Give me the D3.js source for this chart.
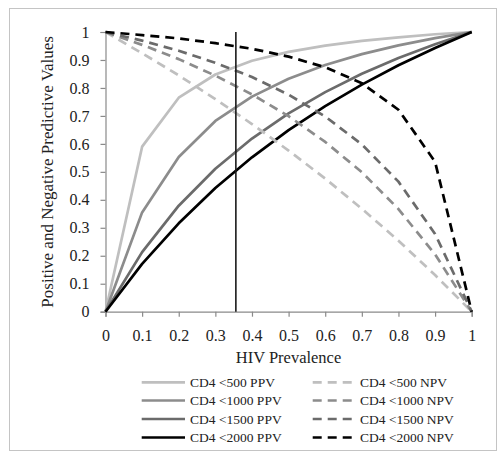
<!DOCTYPE html>
<html><head><meta charset="utf-8">
<script src="https://cdn.jsdelivr.net/npm/d3@7"></script>
<style>body{margin:0;background:#fff}svg{display:block}svg text{font-family:"Liberation Serif","Times New Roman",serif}</style>
</head><body>
<svg id="c" width="503" height="456"></svg>
<script>
const prevalence = [0,0.1,0.2,0.3,0.4,0.5,0.6,0.7,0.8,0.9,1];
const ppv500  = [0,0.59,0.765,0.848,0.897,0.929,0.951,0.968,0.981,0.992,1];
const ppv1000 = [0,0.355,0.553,0.682,0.769,0.833,0.882,0.921,0.952,0.978,1];
const ppv1500 = [0,0.213,0.379,0.511,0.619,0.709,0.785,0.851,0.907,0.956,1];
const ppv2000 = [0,0.171,0.316,0.442,0.552,0.649,0.735,0.812,0.881,0.943,1];
const npv500  = [1,0.924,0.845,0.760,0.671,0.576,0.476,0.368,0.254,0.131,0];
const npv1000 = [1,0.954,0.903,0.844,0.777,0.699,0.607,0.499,0.367,0.205,0];
const npv1500 = [1,0.969,0.933,0.890,0.839,0.776,0.698,0.598,0.465,0.278,0];
const npv2000 = [1,0.989,0.977,0.960,0.940,0.912,0.874,0.817,0.722,0.536,0];
const markerX = 0.356;
const xTicks = [0,0.1,0.2,0.3,0.4,0.5,0.6,0.7,0.8,0.9,1];
const yTicks = [0,0.1,0.2,0.3,0.4,0.5,0.6,0.7,0.8,0.9,1];

const series = [
  {name:"CD4 <500 PPV", v:ppv500, color:"#bfbfbf", dash:null},
  {name:"CD4 <1000 PPV", v:ppv1000, color:"#8c8c8c", dash:null},
  {name:"CD4 <1500 PPV", v:ppv1500, color:"#6b6b6b", dash:null},
  {name:"CD4 <2000 PPV", v:ppv2000, color:"#000000", dash:null},
  {name:"CD4 <500 NPV", v:npv500, color:"#bfbfbf", dash:"9,6"},
  {name:"CD4 <1000 NPV", v:npv1000, color:"#8c8c8c", dash:"9,6"},
  {name:"CD4 <1500 NPV", v:npv1500, color:"#6b6b6b", dash:"9,6"},
  {name:"CD4 <2000 NPV", v:npv2000, color:"#000000", dash:"9,6"}
];

const svg = d3.select("#c");
svg.append("rect").attr("x",9.5).attr("y",8.5).attr("width",487).attr("height",442)
  .attr("fill","#fff").attr("stroke","#c4c4c4").attr("stroke-width",1);

const x = d3.scaleLinear().domain([0,1]).range([105.5,471.7]);
const y = d3.scaleLinear().domain([0,1]).range([311.7,32]);

const xAxis = svg.append("g").attr("transform",`translate(0,${y(0)})`)
  .call(d3.axisBottom(x).tickValues(xTicks).tickSize(5).tickPadding(13).tickFormat(d3.format("")));
const yAxis = svg.append("g").attr("transform",`translate(${x(0)},0)`)
  .call(d3.axisLeft(y).tickValues(yTicks).tickSize(5).tickPadding(11).tickFormat(d3.format("")));
[xAxis,yAxis].forEach(g=>{
  g.select(".domain").attr("stroke","#8a8a8a").attr("stroke-width",1.2);
  g.selectAll(".tick line").attr("stroke","#8a8a8a").attr("stroke-width",1.2);
  g.selectAll("text").attr("font-family",null).attr("font-size",16).attr("fill","#222");
});

const line = d3.line().x((d,i)=>x(prevalence[i])).y(d=>y(d));
series.forEach(s=>{
  svg.append("path").attr("d",line(s.v)).attr("fill","none")
    .attr("stroke",s.color).attr("stroke-width",2.7)
    .attr("stroke-linejoin","round")
    .attr("stroke-dasharray",s.dash);
});

svg.append("line").attr("x1",x(markerX)).attr("x2",x(markerX))
  .attr("y1",y(1)).attr("y2",y(0)).attr("stroke","#1a1a1a").attr("stroke-width",1.6);

svg.append("text").attr("x",288.5).attr("y",363).attr("text-anchor","middle")
  .attr("font-size",16.5).attr("fill","#222").text("HIV Prevalence");
svg.append("text").attr("transform",`translate(53,${(y(0)+y(1))/2}) rotate(-90)`)
  .attr("text-anchor","middle").attr("font-size",17).attr("fill","#222")
  .text("Positive and Negative Predictive Values");

const rows = [382.3,400.5,419,437.5];
series.forEach((s,i)=>{
  const col = i<4 ? 0 : 1;
  const r = rows[i%4];
  const lx0 = col===0 ? 141.7 : 312.7;
  const lx1 = col===0 ? 185 : 352.7;
  const tx = col===0 ? 190 : 360;
  svg.append("line").attr("x1",lx0).attr("x2",lx1).attr("y1",r).attr("y2",r)
    .attr("stroke",s.color).attr("stroke-width",2.7).attr("stroke-dasharray",s.dash);
  svg.append("text").attr("x",tx).attr("y",r+4.8)
    .attr("font-size",13.5).attr("fill","#222").text(s.name);
});
</script>
</body></html>
